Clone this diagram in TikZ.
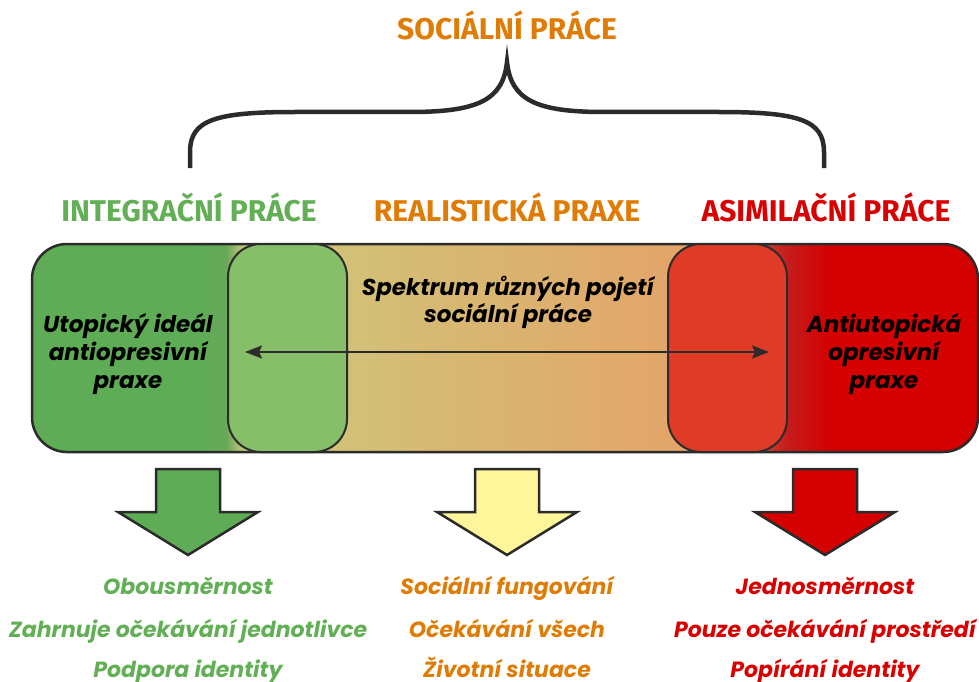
\documentclass[tikz,border=0pt]{standalone}
\usepackage{fontspec}
\usetikzlibrary{arrows.meta}
\newfontfamily\pop{Poppins}
\newfontfamily\cond{Fira Sans}
\definecolor{gA}{HTML}{5EAC55}
\definecolor{gC}{HTML}{68A85A}
\definecolor{gB}{HTML}{87BE6A}
\definecolor{yel}{HTML}{CDC97C}
\definecolor{ora}{HTML}{E4A368}
\definecolor{rD}{HTML}{C41C1C}
\definecolor{rA}{HTML}{D50000}
\definecolor{rB}{HTML}{E03B26}
\definecolor{txtG}{HTML}{62AF55}
\definecolor{txtO}{HTML}{DF7C06}
\definecolor{txtR}{HTML}{D80000}
\definecolor{arY}{HTML}{FFF59A}
\definecolor{outl}{HTML}{2B2B2B}
\tikzset{
  hd/.style={font=\cond\bfseries\fontsize{30}{32}\selectfont, inner sep=0pt, anchor=base},
  bt/.style={font=\pop\bfseries\itshape\fontsize{23}{28}\selectfont, inner sep=0pt, anchor=base, text=black},
  lt/.style={font=\pop\bfseries\itshape\fontsize{22}{26}\selectfont, inner sep=0pt, anchor=base},
  innerbox/.style={draw=outl, line width=2pt, rounded corners=33pt, minimum width=119pt, minimum height=208pt, inner sep=0pt},
  blockarrow/.style={draw=outl, line width=2.5pt, line join=miter},
  bracestyle/.style={draw=outl, line width=4.5pt, line join=miter}
}
\begin{document}
\begin{tikzpicture}[x=1pt,y=-1pt]
\useasboundingbox (0,0) rectangle (979,682);
% title and brace
\node[hd, text=txtO] (title) at (507,40) {SOCIÁLNÍ PRÁCE};
\coordinate (bL) at (190,168);
\coordinate (bR) at (824,168);
\coordinate (bT) at (507,62);
\draw[bracestyle] (bL) -- (190,152) .. controls (190,120) and (215,112) .. (295,112) -- (410,112) .. controls (478,112) and (503,100) .. (bT) .. controls (511,100) and (536,112) .. (604,112) -- (719,112) .. controls (799,112) and (824,120) .. (824,152) -- (bR);
% headings
\node[hd, text=txtG] (hG) at (189,221) {INTEGRAČNÍ PRÁCE};
\node[hd, text=txtO] (hO) at (507,221) {REALISTICKÁ PRAXE};
\node[hd, text=txtR] (hR) at (826,221) {ASIMILAČNÍ PRÁCE};
% main bar fill
\begin{scope}
  \clip[rounded corners=35pt] (32,244) rectangle (978,452);
  \fill[gA] (0,200) rectangle (195,500);
  \shade[left color=gA, right color=gC] (195,200) rectangle (226,500);
  \shade[left color=gC, right color=yel] (226,200) rectangle (245,500);
  \shade[left color=yel, right color=ora] (245,200) rectangle (700,500);
  \shade[left color=ora, right color=rD] (700,200) rectangle (787,500);
  \shade[left color=rD, right color=rA] (787,200) rectangle (830,500);
  \fill[rA] (830,200) rectangle (990,500);
\end{scope}
\node[draw=outl, line width=2.5pt, rounded corners=35pt, minimum width=946pt, minimum height=208pt, inner sep=0pt] (bar) at (505,348) {};
\node[innerbox, fill=gB] (lbox) at (287.5,348) {};
\node[innerbox, fill=rB] (rbox) at (727.5,348) {};
% double arrow
\coordinate (aL) at (245,352);
\coordinate (aR) at (769,352);
\draw[outl, line width=2pt, {Stealth[length=17pt,width=13pt,inset=3pt]}-{Stealth[length=17pt,width=13pt,inset=3pt]}] (aL) -- (aR);
% texts in bar
\node[bt] (l1) at (128,332) {Utopický ideál};
\node[bt] (l2) at (128,360) {antiopresivní};
\node[bt] (l3) at (128,388) {praxe};
\node[bt] (m1) at (508,295) {Spektrum různých pojetí};
\node[bt] (m2) at (508,322) {sociální práce};
\node[bt] (r1) at (884,332) {Antiutopická};
\node[bt] (r2) at (884,360) {opresivní};
\node[bt] (r3) at (884,388) {praxe};
% block arrows
\foreach \cx/\col in {188/gA, 507/arY, 825/rA}{
  \draw[blockarrow, fill=\col] (\cx-32,469) -- (\cx+32,469) -- (\cx+32,512) -- (\cx+70,512) -- (\cx,555) -- (\cx-70,512) -- (\cx-32,512) -- cycle;
}
% bottom lists
\node[lt, text=txtG] (g1) at (188,594) {Obousměrnost};
\node[lt, text=txtG] (g2) at (188,637) {Zahrnuje očekávání jednotlivce};
\node[lt, text=txtG] (g3) at (188,677) {Podpora identity};
\node[lt, text=txtO] (o1) at (507,594) {Sociální fungování};
\node[lt, text=txtO] (o2) at (507,637) {Očekávání všech};
\node[lt, text=txtO] (o3) at (507,677) {Životní situace};
\node[lt, text=txtR] (q1) at (825,594) {Jednosměrnost};
\node[lt, text=txtR] (q2) at (825,637) {Pouze očekávání prostředí};
\node[lt, text=txtR] (q3) at (825,677) {Popírání identity};
\end{tikzpicture}
\end{document}
